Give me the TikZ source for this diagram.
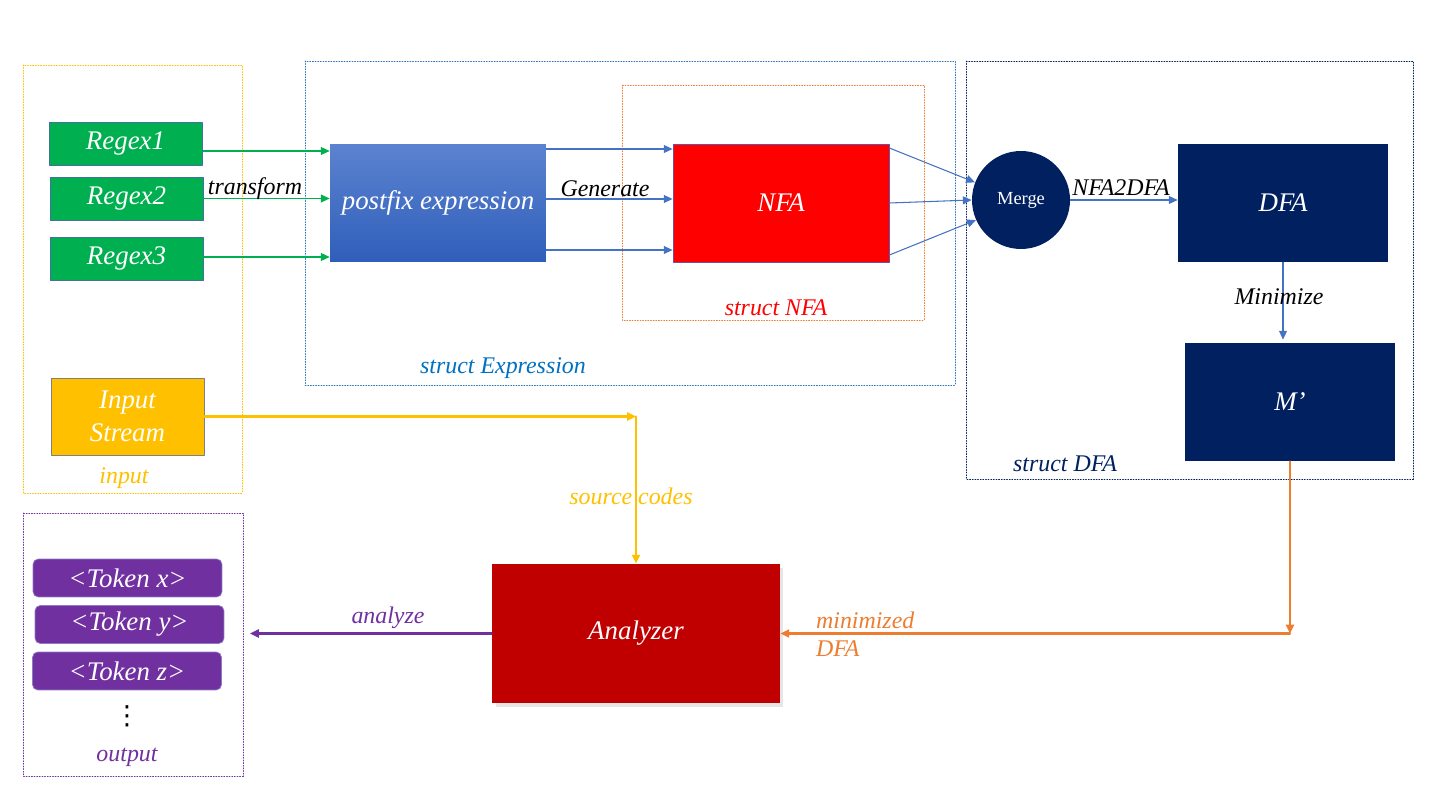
\documentclass[tikz,border=0pt]{standalone}
\usepackage{fontspec}
\setmainfont{Liberation Serif}
\newfontfamily\symfont{DejaVu Sans}
\usetikzlibrary{arrows.meta,shadows,calc}
\definecolor{rgreen}{RGB}{0,176,80}
\definecolor{ryellow}{RGB}{255,192,0}
\definecolor{navy}{RGB}{0,32,96}
\definecolor{darkred}{RGB}{192,0,0}
\definecolor{purp}{RGB}{112,48,160}
\definecolor{lineblue}{RGB}{68,114,196}
\definecolor{orng}{RGB}{237,125,49}
\definecolor{exprblue}{RGB}{0,112,192}
\definecolor{frameblue}{RGB}{46,117,182}

\begin{document}
\begin{tikzpicture}[x=0.02cm,y=-0.02cm,line cap=round,line join=round,
  box/.style={text=white,font=\fontsize{15.3}{19}\selectfont\itshape,inner sep=0pt,align=center},
  lbl/.style={font=\fontsize{13.6}{16}\selectfont\itshape,inner sep=1pt,align=left},
  frame/.style={densely dotted,line width=0.5pt},
  tip/.style={-{Triangle[length=5pt,width=4.5pt]}},
  thinarrow/.style={tip,line width=0.6pt},
  thickarrow/.style={tip,line width=1.2pt}]
	\useasboundingbox (0,0) rectangle (1440,810);

	% frames
	\draw [frame,color=ryellow] (23,65) rectangle (242,493);
	\draw [frame,color=purp] (23,513) rectangle (243,776);
	\draw [frame,color=frameblue] (305,61) rectangle (955,385);
	\draw [frame,color=orng] (622,85) rectangle (924,320);
	\draw [frame,color=navy] (966,61) rectangle (1413,479);

	\node[lbl,text=ryellow] (inlbl) at (124,478) {input};
	\node[lbl,text=purp] (outlbl) at (127,757) {output};
	\node[lbl,text=exprblue] (exprlbl) at (503,368) {struct Expression};
	\node[lbl,text=red] (nfalbl) at (776,308) {struct NFA};
	\node[lbl,text=navy] (dfalbl) at (1065,464) {struct DFA};

	% boxes
	\node[box,fill=rgreen,draw={rgb,255:red,65;green,113;blue,156},line width=0.5pt,minimum width=3.06cm,minimum height=0.86cm] (regex1) at (125.5,143.5) {Regex1};
	\node[box,fill=rgreen,draw={rgb,255:red,65;green,113;blue,156},line width=0.5pt,minimum width=3.06cm,minimum height=0.86cm] (regex2) at (126.5,198.5) {Regex2};
	\node[box,fill=rgreen,draw={rgb,255:red,65;green,113;blue,156},line width=0.5pt,minimum width=3.06cm,minimum height=0.86cm] (regex3) at (126.5,258.5) {Regex3};
	\node[box,fill=ryellow,draw=gray,line width=0.5pt,minimum width=3.06cm,minimum height=1.54cm] (instream) at (127.5,416.5) {Input\\Stream};

	\node[box,fill=purp,draw={rgb,255:red,142;green,124;blue,195},rounded corners=3pt,minimum width=3.78cm,minimum height=0.76cm] (tokx) at (127.5,578) {<Token x>};
	\node[box,fill=purp,draw={rgb,255:red,142;green,124;blue,195},rounded corners=3pt,minimum width=3.78cm,minimum height=0.76cm] (toky) at (129.5,624.5) {<Token y>};
	\node[box,fill=purp,draw={rgb,255:red,142;green,124;blue,195},rounded corners=3pt,minimum width=3.78cm,minimum height=0.76cm] (tokz) at (127,671) {<Token z>};
	\node[font=\symfont\fontsize{15}{18}\selectfont,inner sep=0pt] (dots) at (127,716) {⋮};

	\node[box,top color={rgb,255:red,92;green,131;blue,208},bottom color={rgb,255:red,47;green,94;blue,186},minimum width=4.32cm,minimum height=2.36cm] (postfix) at (438,203) {postfix expression};
	\node[box,fill=red,draw={rgb,255:red,112;green,80;blue,160},line width=0.5pt,minimum width=4.32cm,minimum height=2.36cm] (nfa) at (781,203) {NFA};
	\node[circle,fill=navy,text=white,font=\fontsize{10.5}{12}\selectfont,inner sep=0pt,minimum size=1.96cm] (merge) at (1021,200) {Merge};
	\node[box,fill=navy,minimum width=4.2cm,minimum height=2.36cm] (dfa) at (1283,203) {DFA};
	\node[box,fill=navy,minimum width=4.2cm,minimum height=2.36cm] (mprime) at (1290,402) {M’};
	\node[box,fill=darkred,minimum width=5.76cm,minimum height=2.78cm,drop shadow={opacity=0.2,shadow xshift=2pt,shadow yshift=-2pt}] (analyzer) at (636,633.5) {Analyzer};

	% connectors
	\draw [thinarrow,color=rgreen] ([yshift=-0.15cm]regex1.east) -- ([yshift=-0.15cm]regex1.east -| postfix.west);
	\draw [thinarrow,color=rgreen] (regex2.east) -- (regex2.east -| postfix.west);
	\draw [thinarrow,color=rgreen] ([yshift=0.03cm]regex3.east) -- ([yshift=0.03cm]regex3.east -| postfix.west);
	\node[lbl] (transform) at (255,189) {transform};

	\draw [thinarrow,color=lineblue] ([yshift=1.08cm]postfix.east) -- ([yshift=1.08cm]postfix.east -| nfa.west);
	\draw [thinarrow,color=lineblue] ([yshift=0.08cm]postfix.east) -- ([yshift=0.08cm]postfix.east -| nfa.west);
	\draw [thinarrow,color=lineblue] ([yshift=-0.94cm]postfix.east) -- ([yshift=-0.94cm]postfix.east -| nfa.west);
	\node[lbl] (generate) at (605,189) {Generate};

	\draw [thinarrow,color=lineblue] ([yshift=1.1cm]nfa.east) -- (merge.159);
	\draw [thinarrow,color=lineblue] (nfa.east) -- (merge.west);
	\draw [thinarrow,color=lineblue] ([yshift=-1.04cm]nfa.east) -- (merge.204);

	\draw [thinarrow,color=lineblue] (merge.east) -- (merge.east -| dfa.west);
	\node[lbl] (nfa2dfa) at (1121,188) {NFA2DFA};
	\draw [thinarrow,color=lineblue] (dfa.south) -- ([yshift=0.06cm]dfa.south |- mprime.north);
	\node[lbl] (minimize) at (1279,297) {Minimize};

	\coordinate (ycorner) at (analyzer.north |- instream.east);
	\draw [thickarrow,color=ryellow] (instream.east) -- (ycorner);
	\draw [thickarrow,color=ryellow] (ycorner) -- (analyzer.north);
	\node[lbl,text=ryellow] (srclbl) at (631,496) {source codes};

	\coordinate (ocorner) at (mprime.south |- analyzer.east);
	\draw [thickarrow,color=orng] (mprime.south) -- (ocorner);
	\draw [thickarrow,color=orng] (ocorner) -- (analyzer.east);
	\node[lbl,text=orng,anchor=west] (minlbl) at (814,634) {minimized\\DFA};

	\coordinate (outend) at (250,633.5);
	\draw [thickarrow,color=purp] (analyzer.west) -- (outend);
	\node[lbl,text=purp] (anlbl) at (388,618) {analyze};
\end{tikzpicture}
\end{document}
